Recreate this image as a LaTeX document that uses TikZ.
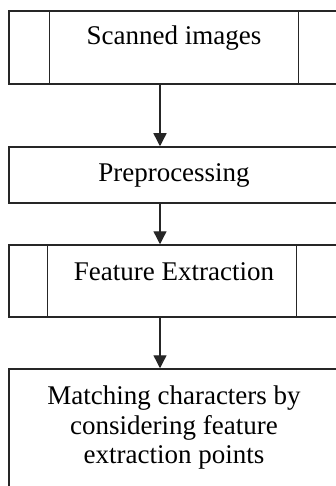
\documentclass[tikz,border=0pt]{standalone}
\usepackage{fontspec}
\setmainfont{Liberation Serif}
\usetikzlibrary{arrows.meta}
\begin{document}
\begin{tikzpicture}[x=1pt,y=-1pt,
  frame/.style={draw=black!85,line width=1.5pt,rectangle,inner sep=0pt,minimum width=330pt},
  caption/.style={anchor=base,inner sep=0pt,font=\fontsize{27}{29.5}\selectfont,align=center},
  flow/.style={draw=black!85,line width=1.4pt,-{Triangle[width=13pt,length=13pt]}}]
  \useasboundingbox (0,0) rectangle (336,486);
  \clip (0,0) rectangle (336,486);
  \fill[white] (0,0) rectangle (336,486);

  % process boxes (right side runs past the page edge)
  \node[frame,minimum height=73pt] (b1) at (174,47.5) {};
  \node[frame,minimum height=56pt] (b2) at (174,175) {};
  \node[frame,minimum height=72pt] (b3) at (174,281) {};
  \node[frame,minimum height=130pt] (b4) at (174,434) {};

  % side bars of the predefined-process boxes
  \draw[black!85,line width=1.5pt] (b1.north west) ++(41,0) -- ++(0,73);
  \draw[black!85,line width=1.5pt] (b1.north west) ++(290,0) -- ++(0,73);
  \draw[black!85,line width=1.5pt] (b3.north west) ++(39,0) -- ++(0,72);
  \draw[black!85,line width=1.5pt] (b3.north west) ++(288,0) -- ++(0,72);

  % labels
  \node[caption] (t1) at (174,45) {Scanned images};
  \node[caption] (t2) at (174,182) {Preprocessing};
  \node[caption] (t3) at (174,280) {Feature Extraction};
  \node[caption,anchor=north] (t4) at (174,386) {Matching characters by\\considering feature\\extraction points};

  % connectors
  \coordinate (ax) at (160,0);
  \draw[flow] (b1.south -| ax) -- (b2.north -| ax);
  \draw[flow] (b2.south -| ax) -- (b3.north -| ax);
  \draw[flow] (b3.south -| ax) -- (b4.north -| ax);
\end{tikzpicture}
\end{document}
